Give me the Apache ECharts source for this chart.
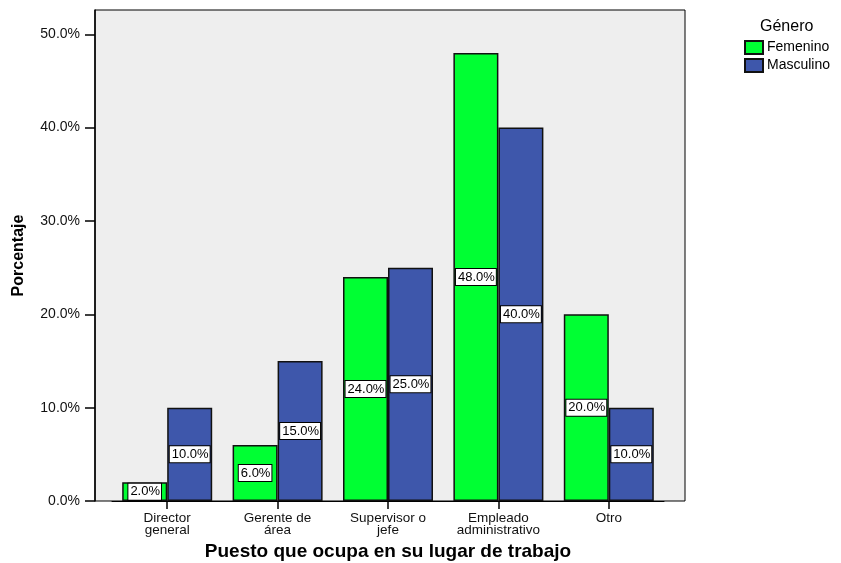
<!DOCTYPE html>
<html>
<head>
<meta charset="utf-8">
<script src="https://cdn.jsdelivr.net/npm/echarts@6/dist/echarts.min.js"></script>
<style>
  html, body { margin: 0; padding: 0; background: #fff; }
  #chart { width: 841px; height: 563px; }
</style>
</head>
<body>
<div id="chart"></div>
<script>
// Puesto de trabajo por género (porcentaje dentro de cada género)
const categories = ['Director\ngeneral', 'Gerente de\nárea', 'Supervisor o\njefe', 'Empleado\nadministrativo', 'Otro'];
const femenino = [2.0, 6.0, 24.0, 48.0, 20.0];
const masculino = [10.0, 15.0, 25.0, 40.0, 10.0];
const yTicks = [0, 10, 20, 30, 40, 50];
const yMax = 52.6;

const FONT = '"Liberation Sans", Arial, sans-serif';
const pct = v => Number(v).toFixed(1) + '%';

const valueLabel = {
  show: true,
  position: 'inside',
  formatter: p => pct(p.value),
  color: '#000',
  fontFamily: FONT,
  fontSize: 13,
  backgroundColor: '#fff',
  borderColor: '#000',
  borderWidth: 1,
  padding: [2, 1, 1, 2]
};

const chart = echarts.init(document.getElementById('chart'), null, { renderer: 'canvas' });
chart.setOption({
  animation: false,
  backgroundColor: '#fff',
  title: {
    text: 'Género',
    left: 755,
    top: 14,
    textStyle: { fontFamily: FONT, fontSize: 16, fontWeight: 'normal', color: '#000' }
  },
  legend: {
    orient: 'vertical',
    left: 739,
    top: 35,
    itemWidth: 18,
    itemHeight: 13,
    itemGap: 3,
    icon: 'rect',
    textStyle: { fontFamily: FONT, fontSize: 14, color: '#000', padding: [0, 0, 0, -1] },
    data: ['Femenino', 'Masculino']
  },
  grid: [
    // framed plot area carrying the percentage axis
    { left: 95, right: 156, top: 10, bottom: 62, show: true, outerBoundsMode: 'none', containLabel: false,
      backgroundColor: '#eeeeee', borderColor: '#000', borderWidth: 1 },
    // inner band for the category bars
    { left: 112, right: 177, top: 10, bottom: 62, outerBoundsMode: 'none', containLabel: false }
  ],
  xAxis: [
    { gridIndex: 0, type: 'value', show: false, min: 0, max: 1 },
    {
      gridIndex: 1,
      type: 'category',
      data: categories,
      axisLine: { show: true, lineStyle: { color: '#000', width: 1 } },
      axisTick: { show: true, alignWithLabel: true, length: 8, lineStyle: { color: '#000', width: 1.5 } },
      axisLabel: { color: '#111', fontFamily: FONT, fontSize: 13.5, lineHeight: 12, margin: 11, interval: 0 },
      name: 'Puesto que ocupa en su lugar de trabajo',
      nameLocation: 'middle',
      nameGap: 41,
      nameMoveOverlap: false,
      nameTextStyle: { fontFamily: FONT, fontSize: 19, fontWeight: 'bold', color: '#000' }
    }
  ],
  yAxis: [
    {
      gridIndex: 0,
      type: 'value',
      min: 0,
      max: yMax,
      axisLine: { show: true, lineStyle: { color: '#000', width: 1.5 } },
      axisTick: { show: true, length: 10, customValues: yTicks, lineStyle: { color: '#000', width: 1.5 } },
      axisLabel: { customValues: yTicks, formatter: v => pct(v), color: '#111', fontFamily: FONT, fontSize: 14, margin: 15 },
      splitLine: { show: false },
      name: 'Porcentaje',
      nameLocation: 'middle',
      nameGap: 68,
      nameMoveOverlap: false,
      nameTextStyle: { fontFamily: FONT, fontSize: 16, fontWeight: 'bold', color: '#000' }
    },
    { gridIndex: 1, type: 'value', min: 0, max: yMax, show: false, splitLine: { show: false } }
  ],
  series: [
    {
      name: 'Femenino',
      type: 'bar',
      xAxisIndex: 1,
      yAxisIndex: 1,
      data: femenino,
      barWidth: 45,
      barGap: '0%',
      itemStyle: { color: '#00ff33', borderColor: '#111', borderWidth: 1.5 },
      label: valueLabel
    },
    {
      name: 'Masculino',
      type: 'bar',
      xAxisIndex: 1,
      yAxisIndex: 1,
      data: masculino,
      barWidth: 45,
      barGap: '0%',
      itemStyle: { color: '#3e57ab', borderColor: '#111', borderWidth: 1.5 },
      label: valueLabel
    }
  ]
});
</script>
</body>
</html>
